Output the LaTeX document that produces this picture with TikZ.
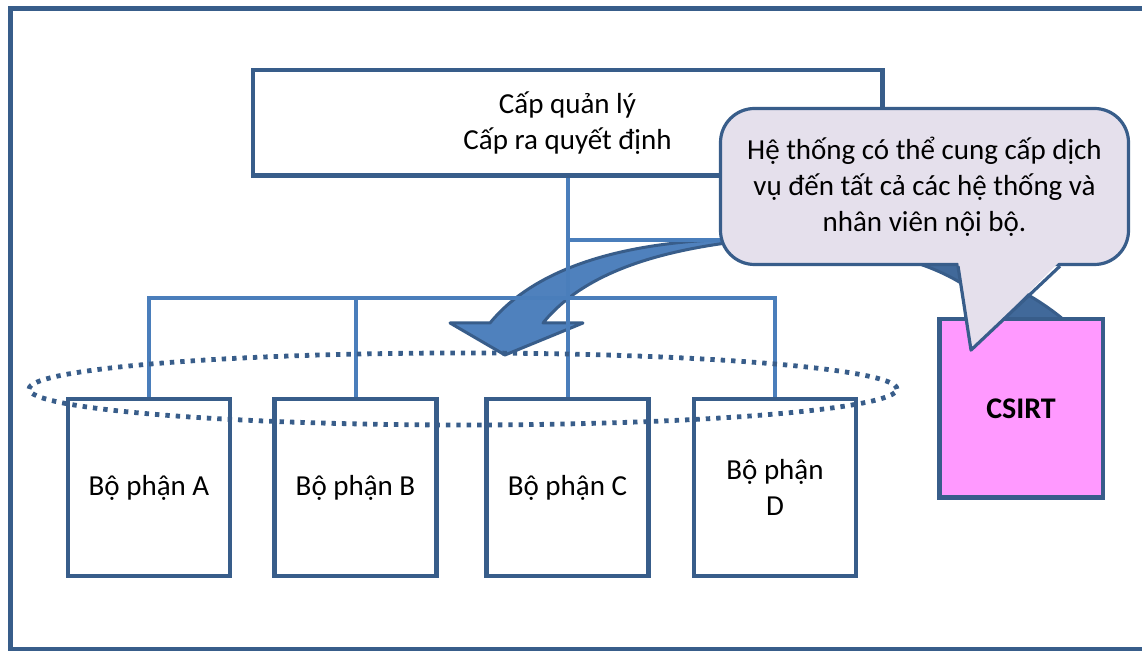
\documentclass[tikz,border=0pt]{standalone}
\usepackage{fontspec}
\setmainfont{Carlito}
\usetikzlibrary{calc}
\usetikzlibrary{positioning}
\definecolor{darkblue}{HTML}{385D8A}
\definecolor{lineblue}{HTML}{4A7EBB}
\definecolor{arrowfill}{HTML}{4F81BD}
\definecolor{arrowback}{HTML}{41699A}
\definecolor{notefill}{HTML}{E5E0EC}
\definecolor{csirtpink}{HTML}{FF99FF}
\tikzset{block/.style={draw=darkblue, line width=2.25pt, fill=white, align=center, text=black, font=\fontsize{14.5}{18}\selectfont}}
\tikzset{dept/.style={minimum width=81pt, minimum height=88.5pt}}
\tikzset{connect/.style={draw=lineblue, line width=2pt}}
\tikzset{frame/.style={draw=darkblue, line width=2.5pt}}
\tikzset{ring/.style={draw=darkblue, line width=2.4pt, dash pattern=on 2.2pt off 3pt}}
\begin{document}
\begin{tikzpicture}[x=0.5pt,y=-0.5pt]
\useasboundingbox (0,0) rectangle (1142,651);

% outer frame
\draw[frame] (10.5,8.5) rectangle (1160,649.5);

% curved arrow, back part
\draw[darkblue, line width=1.5pt, fill=arrowback, line join=round]
  (760,239) .. controls (880,238) and (1010,262) .. (1080,335)
  -- (1005,335) .. controls (990,285) and (920,250) .. (800,243) -- cycle;
% curved arrow, front part with head
\draw[darkblue, line width=1.5pt, fill=arrowfill, line join=round]
  (450,323) -- (490,323) .. controls (540,262) and (640,238) .. (760,239)
  .. controls (680,247) and (590,265) .. (543,323) -- (583,323) -- (505,355) -- cycle;

% management block
\node[block, minimum width=314.75pt, minimum height=52.75pt] (mgmt) at (567.5,123) {Cấp quản lý\\Cấp ra quyết định};

% departments
\node[block, dept] (deptA) at (149,487.5) {Bộ phận A};
\node[block, dept, right=20pt of deptA] (deptB) {Bộ phận B};
\node[block, dept, right=22.75pt of deptB] (deptC) {Bộ phận C};
\node[block, dept, right=20.5pt of deptC] (deptD) {Bộ phận\\D};

%CSIRT
\node[block, fill=csirtpink, minimum width=81.75pt, minimum height=89.25pt, font=\fontsize{15}{18}\selectfont\bfseries] (csirt) at (1021,408.5) {CSIRT};

%tree lines
\coordinate (bus) at (0,298);
\coordinate (branch) at (0,240);
\path[connect] (mgmt.south) -- (deptC.north);
\path[connect] (deptA.north) |- (bus -| deptD.north) -- (deptD.north);
\path[connect] (deptB.north) -- (deptB.north |- bus);
\path[connect] (mgmt.south |- branch) -- (csirt.north |- branch);

% dotted ring round the departments
\draw[ring] (463,389) ellipse [x radius=217pt, y radius=18pt];

% speech bubble
\node[draw=darkblue, line width=1.6pt, fill=notefill, rounded corners=17pt, minimum width=204pt, minimum height=78pt, align=center, font=\fontsize{14.5}{18}\selectfont] (note) at (924.5,186.5) {Hệ thống có thể cung cấp dịch\\vụ đến tất cả các hệ thống và\\nhân viên nội bộ.};
\coordinate (tipL) at ($(note.south)+(33.5,0)$);
\coordinate (tipR) at ($(note.south)+(135.5,0)$);
\coordinate (tip) at ($(note.south)+(46.5,84)$);
\fill[notefill] ($(tipL)+(0,-5)$) -- (tip) -- ($(tipR)+(0,-5)$) -- cycle;
\draw[darkblue, line width=1.6pt, line join=round] (tipL) -- (tip) -- (tipR);

\end{tikzpicture}
\end{document}
